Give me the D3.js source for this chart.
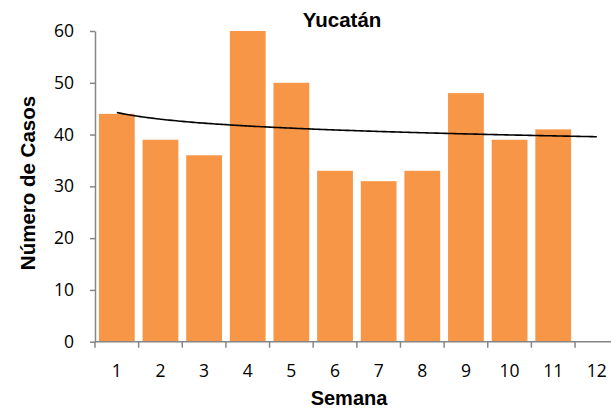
<!DOCTYPE html>
<html>
<head>
<meta charset="utf-8">
<script src="https://cdn.jsdelivr.net/npm/d3@7"></script>
<style>
  body { margin: 0; background: #fff; }
  svg { display: block; }
</style>
</head>
<body>
<svg id="chart"></svg>
<script>
// Data
const semanas = [1, 2, 3, 4, 5, 6, 7, 8, 9, 10, 11, 12];
const casos = [44, 39, 36, 60, 50, 33, 31, 33, 48, 39, 41];
const yTicks = [0, 10, 20, 30, 40, 50, 60];
const titulo = "Yucatán";

const width = 611, height = 411;
const margin = { left: 95, top: 31, bottom: 69 };
const step = 43.64;
const x0 = margin.left, x1 = margin.left + step * semanas.length;
const yBottom = height - margin.bottom - 0.3;

const svg = d3.select("#chart")
    .attr("width", width)
    .attr("height", height)
    .style("font-family", "Liberation Sans, Arial, sans-serif");

// scales
const x = d3.scaleBand().domain(semanas).range([x0, x1]).paddingInner(0.18).paddingOuter(0.09);
const xl = d3.scaleLinear().domain([0.5, 12.5]).range([x0, x1]);  // para ticks y tendencia
const y = d3.scaleLinear().domain([0, 60]).range([yBottom, margin.top]);

// bars
svg.append("g").selectAll("rect")
    .data(casos)
    .enter()
    .append("rect")
    .attr("x", (d, i) => x(semanas[i]))
    .attr("y", d => y(d))
    .attr("width", x.bandwidth())
    .attr("height", d => y(0) - y(d))
    .attr("fill", "#F79646");

// y axis
const yAxis = svg.append("g")
    .attr("transform", `translate(${x0},0)`)
    .call(d3.axisLeft(y).tickValues(yTicks).tickSize(5).tickSizeOuter(0).tickPadding(16));
yAxis.select(".domain").attr("stroke", "#868686").attr("stroke-width", 1.5);
yAxis.selectAll(".tick line").attr("stroke", "#868686").attr("stroke-width", 1.5);
yAxis.selectAll(".tick text")
    .style("font-family", "Open Sans")
    .style("font-size", "17.5px")
    .attr("fill", "#000");

// x axis: ticks at band boundaries, labels at centers
const xAxis = svg.append("g").attr("transform", `translate(0,${y(0)})`);
xAxis.append("line")
    .attr("x1", x0).attr("x2", width)
    .attr("stroke", "#868686").attr("stroke-width", 1.5);
xAxis.selectAll(".tk")
    .data(d3.range(0.5, 13, 1))
    .enter()
    .append("line")
    .attr("x1", d => xl(d)).attr("x2", d => xl(d))
    .attr("y1", 0).attr("y2", 6)
    .attr("stroke", "#868686").attr("stroke-width", 1.5);
xAxis.selectAll(".lbl")
    .data(semanas)
    .enter()
    .append("text")
    .attr("x", d => xl(d))
    .attr("y", 29.5)
    .attr("dy", "0.35em")
    .attr("text-anchor", "middle")
    .style("font-family", "Open Sans")
    .style("font-size", "17.5px")
    .text(d => d);

// logarithmic trendline (least squares on ln x)
const lx = casos.map((d, i) => Math.log(semanas[i]));
const mx = d3.mean(lx), my = d3.mean(casos);
const b = d3.sum(lx, (v, i) => (v - mx) * (casos[i] - my)) / d3.sum(lx, v => (v - mx) ** 2);
const a = my - b * mx;
const trend = d3.range(1, 12.001, 0.1).map(t => [t, a + b * Math.log(t)]);
svg.append("path")
    .datum(trend)
    .attr("fill", "none")
    .attr("stroke", "#000")
    .attr("stroke-width", 1.6)
    .attr("d", d3.line().x(d => xl(d[0])).y(d => y(d[1])).curve(d3.curveMonotoneX));

// titles
svg.append("text")
    .attr("x", 342).attr("y", 27)
    .attr("text-anchor", "middle")
    .style("font-size", "20.5px").style("font-weight", "bold")
    .text(titulo);

svg.append("text")
    .attr("x", 349).attr("y", 405)
    .attr("text-anchor", "middle")
    .style("font-size", "20px").style("font-weight", "bold")
    .text("Semana");

svg.append("text")
    .attr("transform", "translate(35,183) rotate(-90)")
    .attr("text-anchor", "middle")
    .style("font-size", "20.5px").style("font-weight", "bold")
    .text("Número de Casos");
</script>
</body>
</html>
